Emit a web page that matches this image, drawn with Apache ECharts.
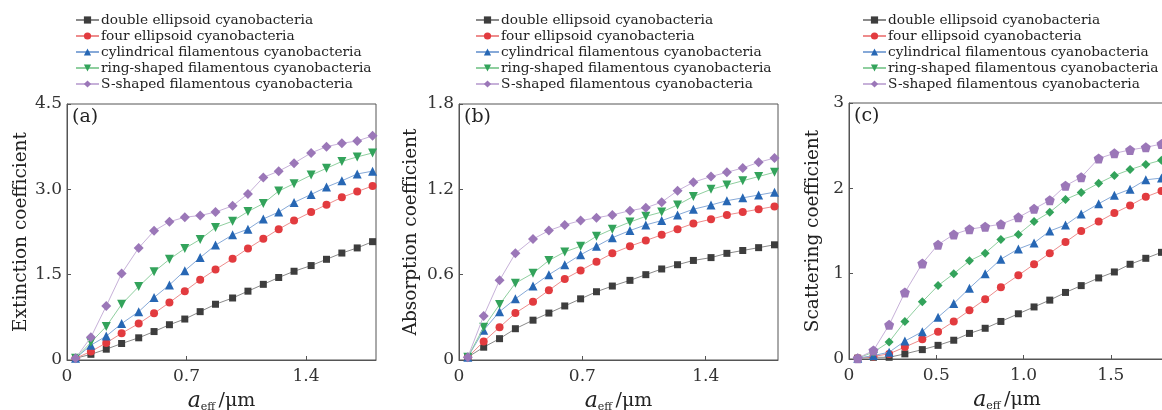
<!DOCTYPE html>
<html>
<head>
<meta charset="utf-8">
<script src="https://cdn.jsdelivr.net/npm/echarts@6/dist/echarts.min.js"></script>
<style>
  html, body { margin: 0; padding: 0; background: #fff; }
  #chart { width: 1162px; height: 410px; }
</style>
</head>
<body>
<div id="chart"></div>
<script>
// effective radius (μm)
const xValues = [0.05, 0.14, 0.23, 0.32, 0.42, 0.51, 0.60, 0.69, 0.78, 0.87, 0.97, 1.06, 1.15, 1.24, 1.33, 1.43, 1.52, 1.61, 1.70, 1.79]

const seriesNames = [
  'double ellipsoid cyanobacteria',
  'four ellipsoid cyanobacteria',
  'cylindrical filamentous cyanobacteria',
  'ring-shaped filamentous cyanobacteria',
  'S-shaped filamentous cyanobacteria'
]

// (a) extinction
const extDouble = [0.03, 0.10, 0.19, 0.29, 0.39, 0.50, 0.62, 0.72, 0.85, 0.98, 1.09, 1.21, 1.33, 1.45, 1.56, 1.66, 1.77, 1.88, 1.97, 2.08]
const extFour = [0.03, 0.15, 0.30, 0.47, 0.64, 0.82, 1.01, 1.21, 1.41, 1.59, 1.78, 1.96, 2.13, 2.30, 2.45, 2.60, 2.73, 2.86, 2.96, 3.06]
const extCyl = [0.03, 0.26, 0.42, 0.64, 0.85, 1.10, 1.32, 1.57, 1.80, 2.02, 2.20, 2.30, 2.48, 2.60, 2.77, 2.91, 3.04, 3.15, 3.27, 3.32]
const extRing = [0.03, 0.31, 0.59, 0.98, 1.29, 1.55, 1.77, 1.96, 2.12, 2.33, 2.44, 2.61, 2.75, 2.97, 3.10, 3.25, 3.37, 3.49, 3.57, 3.64]
const extS = [0.03, 0.40, 0.95, 1.52, 1.97, 2.27, 2.43, 2.51, 2.54, 2.60, 2.71, 2.92, 3.21, 3.32, 3.46, 3.64, 3.75, 3.81, 3.85, 3.94]

// (b) absorption
const absDouble = [0.02, 0.09, 0.15, 0.22, 0.28, 0.33, 0.38, 0.43, 0.48, 0.52, 0.56, 0.60, 0.64, 0.67, 0.70, 0.72, 0.75, 0.77, 0.79, 0.81]
const absFour = [0.02, 0.13, 0.23, 0.33, 0.41, 0.49, 0.57, 0.63, 0.69, 0.75, 0.80, 0.84, 0.88, 0.92, 0.96, 0.99, 1.02, 1.04, 1.06, 1.08]
const absCyl = [0.02, 0.21, 0.34, 0.43, 0.52, 0.60, 0.67, 0.74, 0.80, 0.86, 0.91, 0.95, 0.98, 1.02, 1.06, 1.09, 1.12, 1.14, 1.16, 1.18]
const absRing = [0.02, 0.23, 0.39, 0.54, 0.61, 0.70, 0.76, 0.80, 0.87, 0.92, 0.97, 1.01, 1.04, 1.09, 1.15, 1.20, 1.23, 1.26, 1.29, 1.32]
const absS = [0.02, 0.31, 0.56, 0.75, 0.85, 0.91, 0.95, 0.98, 1.00, 1.02, 1.05, 1.07, 1.11, 1.19, 1.25, 1.29, 1.32, 1.35, 1.39, 1.42]

// (c) scattering
const scaDouble = [0.01, 0.02, 0.02, 0.06, 0.11, 0.16, 0.22, 0.30, 0.36, 0.44, 0.53, 0.61, 0.69, 0.78, 0.86, 0.95, 1.02, 1.11, 1.18, 1.25]
const scaFour = [0.01, 0.03, 0.06, 0.14, 0.23, 0.32, 0.44, 0.57, 0.70, 0.84, 0.98, 1.11, 1.24, 1.37, 1.50, 1.61, 1.71, 1.80, 1.90, 1.97]
const scaCyl = [0.01, 0.04, 0.08, 0.21, 0.32, 0.49, 0.65, 0.83, 1.00, 1.17, 1.29, 1.36, 1.50, 1.57, 1.70, 1.82, 1.92, 1.99, 2.10, 2.12]
const scaRing = [0.01, 0.08, 0.20, 0.44, 0.67, 0.86, 1.00, 1.15, 1.24, 1.40, 1.46, 1.61, 1.72, 1.87, 1.95, 2.06, 2.15, 2.22, 2.28, 2.33]
const scaS = [0.01, 0.10, 0.40, 0.78, 1.12, 1.34, 1.46, 1.52, 1.55, 1.58, 1.66, 1.76, 1.86, 2.03, 2.13, 2.35, 2.41, 2.45, 2.48, 2.52]

const font = '"DejaVu Serif", "Liberation Serif", serif'
const markColors = ['#3d3d3d', '#e23b3f', '#2767b4', '#33a35b', '#9b77b8']
const lineColors = ['#8a8a8a', '#ee8c8c', '#86a9d8', '#8fcf9f', '#c7b1d9']
const symbols = ['rect', 'circle', 'triangle', 'path://M0,0 L2,0 L1,1.8 Z', 'diamond']
const symbolSizes = [7, 8, 9, 9, 10]
const pentagon = 'path://M0,-1 L0.951,-0.309 L0.588,0.809 L-0.588,0.809 L-0.951,-0.309 Z'

const myChart = echarts.init(document.getElementById('chart'))

const panels = [
  { left: 67, right: 786, top: 104, bottom: 50, max: 4.5, interval: 1.5, xInterval: 0.7, yName: 'Extinction coefficient', nameGap: 35, label: '(a)', data: [extDouble, extFour, extCyl, extRing, extS], legendLeft: 75, decimals: 1 },
  { left: 459, right: 384, top: 104, bottom: 50, max: 1.8, interval: 0.6, xInterval: 0.7, yName: 'Absorption coefficient', nameGap: 38, label: '(b)', data: [absDouble, absFour, absCyl, absRing, absS], legendLeft: 475, decimals: 1 },
  { left: 849, right: -3, top: 103, bottom: 51, max: 3, interval: 1, xInterval: 0.5, yName: 'Scattering coefficient', nameGap: 26, label: '(c)', data: [scaDouble, scaFour, scaCyl, scaRing, scaS], legendLeft: 862, decimals: 0 }
]

const grids = [], xAxes = [], yAxes = [], series = [], legends = [], titles = []

panels.forEach((p, k) => {
  grids.push({
    left: p.left, right: p.right, top: p.top, bottom: p.bottom,
    show: true, borderColor: '#555', borderWidth: 1,
    containLabel: false, outerBoundsMode: 'none'
  })
  xAxes.push({
    type: 'value', gridIndex: k, min: 0, max: 1.81, interval: p.xInterval,
    name: '{i|a}{s|eff} {n|/μm}', nameLocation: 'middle', nameGap: 26,
    nameTextStyle: {
      rich: {
        i: { fontFamily: font, fontStyle: 'italic', fontSize: 22, color: '#222' },
        s: { fontFamily: font, fontSize: 11, color: '#222', verticalAlign: 'bottom', padding: [12, 0, 0, 0] },
        n: { fontFamily: font, fontSize: 19, color: '#222' }
      }
    },
    axisLine: { show: true, lineStyle: { color: '#555' } },
    axisTick: { show: true, inside: true, length: 4, lineStyle: { color: '#555' } },
    splitLine: { show: false },
    axisLabel: {
      fontFamily: font, fontSize: 17, color: '#333', margin: 8,
      showMaxLabel: false,
      formatter: v => v === 0 ? '0' : v.toFixed(1)
    }
  })
  yAxes.push({
    type: 'value', gridIndex: k, min: 0, max: p.max, interval: p.interval,
    name: p.yName, nameLocation: 'middle', nameGap: p.nameGap, nameRotate: 90,
    nameTextStyle: { fontFamily: font, fontSize: 18.5, color: '#222' },
    axisLine: { show: true, lineStyle: { color: '#555' } },
    axisTick: { show: true, inside: true, length: 4, lineStyle: { color: '#555' } },
    splitLine: { show: false },
    axisLabel: {
      fontFamily: font, fontSize: 17, color: '#333', margin: 5,
      formatter: v => v === 0 ? '0' : v.toFixed(p.decimals)
    }
  })
  p.data.forEach((vals, s) => {
    let sym = symbols[s]
    if (k === 2 && s === 3) sym = 'diamond'
    if (k === 2 && s === 4) sym = pentagon
    series.push({
      name: seriesNames[s], type: 'line', xAxisIndex: k, yAxisIndex: k,
      data: xValues.map((x, i) => [x, vals[i]]),
      symbol: sym, symbolSize: symbolSizes[s],
      itemStyle: { color: markColors[s] },
      lineStyle: { color: lineColors[s], width: 1 },
      clip: false, animation: false, z: 2 + s
    })
  })
  legends.push({
    data: seriesNames, orient: 'vertical', left: p.legendLeft, top: 13,
    itemWidth: 23, itemHeight: 9, itemGap: 2, padding: 0,
    textStyle: { fontFamily: font, fontSize: 13.7, lineHeight: 14, color: '#222', padding: [0, 0, 0, -3] },
    selectedMode: false
  })
  titles.push({ text: p.label, left: p.left + 5, top: p.top + 4, padding: 0, textStyle: { fontFamily: font, fontSize: 19, fontWeight: 'normal', color: '#222' } })
})

const option = {
  backgroundColor: '#fff',
  animation: false,
  title: titles,
  legend: legends,
  grid: grids,
  xAxis: xAxes,
  yAxis: yAxes,
  series: series
}
myChart.setOption(option)
</script>
</body>
</html>
